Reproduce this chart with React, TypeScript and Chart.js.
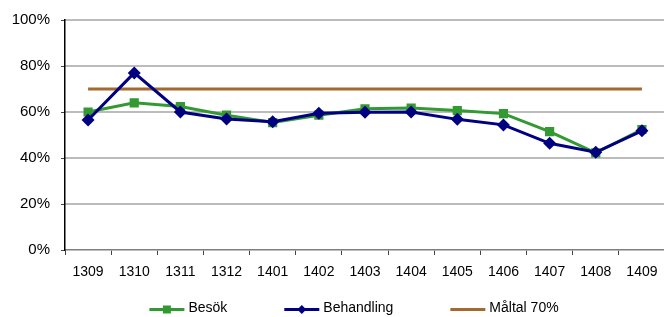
import React, { useEffect, useRef } from "react";
import { Chart, registerables } from "chart.js";

Chart.register(...registerables);

const categories = ["1309", "1310", "1311", "1312", "1401", "1402", "1403", "1404", "1405", "1406", "1407", "1408", "1409"];
const besok = [60.0, 64.0, 62.4, 58.6, 55.4, 58.6, 61.4, 61.7, 60.6, 59.3, 51.5, 42.2, 52.4];
const behandling = [56.5, 77.0, 60.0, 57.0, 55.8, 59.5, 59.9, 60.0, 56.8, 54.4, 46.4, 42.5, 51.8];
const maltal = [70, 70, 70, 70, 70, 70, 70, 70, 70, 70, 70, 70, 70];
const yMin = 0;
const yMax = 100;
const yStep = 20;

const GREEN = "#339a33";
const NAVY = "#000080";
const BROWN = "#a3692f";
const GRID = "#a0a0a0";
const FONT = "'Liberation Sans', Arial, sans-serif";

const legendItems = [
  { label: "Besök", color: GREEN, marker: "rect" },
  { label: "Behandling", color: NAVY, marker: "rectRot" },
  { label: "Måltal 70%", color: BROWN, marker: "none" },
];

const gridPlugin = {
  id: "hGridUnder",
  afterDraw(chart: any) {
    const ctx = chart.ctx;
    const y = chart.scales.y;
    const left = chart.scales.x.left;
    const right = chart.scales.x.right;
    ctx.save();
    ctx.globalAlpha = 1;
    ctx.globalCompositeOperation = "destination-over";
    ctx.fillStyle = GRID;
    for (let v = yMin + yStep; v <= yMax; v += yStep) {
      const py = y.getPixelForValue(v);
      ctx.fillRect(left, py - 0.7, right - left, 1.4);
    }
    ctx.restore();
  },
};

const legendPlugin = {
  id: "customLegend",
  afterDraw(chart: any) {
    const ctx = chart.ctx;
    ctx.save();
    ctx.font = `14px ${FONT}`;
    const lineLen = 35;
    const textGap = 4;
    const gap = 57;
    const widths = legendItems.map((it) => lineLen + textGap + ctx.measureText(it.label).width);
    const total = widths.reduce((a, b) => a + b, 0) + gap * (legendItems.length - 1);
    let x = 354 - total / 2;
    const y = 309.5;
    legendItems.forEach((it, i) => {
      ctx.strokeStyle = it.color;
      ctx.lineWidth = 3;
      ctx.beginPath();
      ctx.moveTo(x, y);
      ctx.lineTo(x + lineLen, y);
      ctx.stroke();
      ctx.fillStyle = it.color;
      const cx = x + lineLen / 2;
      if (it.marker === "rect") {
        ctx.fillRect(cx - 4, y - 4, 8, 8);
      } else if (it.marker === "rectRot") {
        ctx.beginPath();
        ctx.moveTo(cx, y - 4.5);
        ctx.lineTo(cx + 4.5, y);
        ctx.lineTo(cx, y + 4.5);
        ctx.lineTo(cx - 4.5, y);
        ctx.closePath();
        ctx.fill();
      }
      ctx.fillStyle = "#000";
      ctx.textBaseline = "middle";
      ctx.textAlign = "left";
      ctx.fillText(it.label, x + lineLen + textGap, y - 1);
      x += widths[i] + gap;
    });
    ctx.restore();
  },
};

export default function App() {
  const ref = useRef<HTMLCanvasElement | null>(null);
  useEffect(() => {
    if (!ref.current) return;
    const chart = new Chart(ref.current, {
      type: "line",
      data: {
        labels: categories,
        datasets: [
          {
            label: "Besök",
            data: besok,
            borderColor: GREEN,
            backgroundColor: GREEN,
            borderWidth: 3,
            pointStyle: "rect",
            pointRadius: 6.5,
            pointBorderWidth: 0,
            tension: 0,
            fill: false,
            order: 1,
          },
          {
            label: "Behandling",
            data: behandling,
            borderColor: NAVY,
            backgroundColor: NAVY,
            borderWidth: 3,
            pointStyle: "rectRot",
            pointRadius: 6.5,
            pointBorderWidth: 0,
            tension: 0,
            fill: false,
            order: 0,
          },
          {
            label: "Måltal 70%",
            data: maltal,
            borderColor: BROWN,
            backgroundColor: BROWN,
            borderWidth: 3,
            pointRadius: 0,
            tension: 0,
            fill: false,
            order: 2,
          },
        ],
      },
      options: {
        animation: false,
        responsive: false,
        layout: { padding: { top: 15, right: 41, bottom: 0, left: 0 } },
        plugins: { legend: { display: false }, tooltip: { enabled: false } },
        scales: {
          x: {
            offset: true,
            grid: {
              offset: true,
              drawOnChartArea: false,
              drawTicks: true,
              tickLength: 5,
              tickColor: "#444",
            },
            border: { color: "#7f7f7f", width: 1.5 },
            ticks: { color: "#000", font: { family: FONT, size: 14 }, padding: 9, maxRotation: 0, autoSkip: false },
            afterFit: (s: any) => {
              s.height = 67;
            },
          },
          y: {
            min: yMin,
            max: yMax,
            grid: {
              display: true,
              drawOnChartArea: false,
              tickLength: 4,
              tickColor: "#444",
            },
            border: { color: "#000", width: 1.5 },
            ticks: {
              stepSize: yStep,
              color: "#000",
              font: { family: FONT, size: 15 },
              padding: 11,
              callback: (v: any) => v + "%",
            },
            afterFit: (s: any) => {
              s.width = 65;
            },
          },
        },
      },
      plugins: [gridPlugin, legendPlugin],
    });
    return () => chart.destroy();
  }, []);
  return (
    <div style={{ position: "absolute", left: 0, top: 0, width: 664, height: 317, overflow: "hidden", background: "#fff" }}>
      <canvas ref={ref} width={706} height={317} style={{ width: 706, height: 317, display: "block" }} />
    </div>
  );
}
